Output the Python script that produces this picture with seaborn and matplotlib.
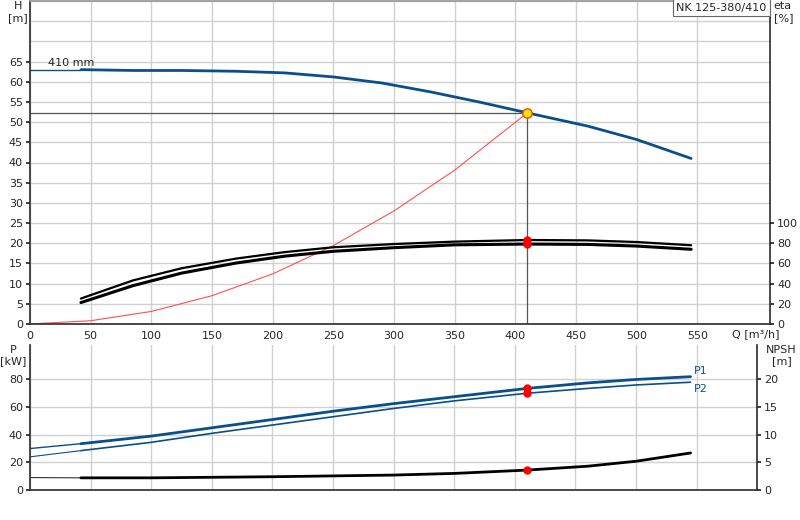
import numpy as np
import seaborn as sns
import matplotlib.pyplot as plt

sns.set_theme(style="white")
plt.rcParams["font.family"] = ["DejaVu Sans"]

# head curve, 410 mm impeller
q_head = [42, 85, 125, 170, 210, 250, 290, 330, 370, 410, 460, 500, 545]
h_head = [63.0, 62.8, 62.8, 62.6, 62.2, 61.2, 59.7, 57.5, 55.0, 52.3, 49.0, 45.7, 41.0]
q_head_ext = [0, 42]
h_head_ext = [63.0, 63.0]

# efficiency (eta, %)
q_eta = [42, 85, 125, 170, 210, 250, 300, 350, 410, 460, 500, 545]
eta_hi = [25.2, 43.2, 55.2, 64.8, 71.2, 76.0, 79.2, 81.6, 83.2, 82.8, 81.2, 78.0]
eta_lo = [21.2, 38.0, 50.4, 60.4, 67.2, 72.0, 75.6, 78.4, 79.2, 78.8, 77.2, 74.0]

# system curve
q_sys = [0, 50, 100, 150, 200, 250, 300, 350, 410]
h_sys = [0, 0.8, 3.1, 7.0, 12.4, 19.4, 28.0, 38.1, 52.3]

# duty point
q_duty = 410
h_duty = 52.3

# power
q_pow = [42, 100, 150, 200, 250, 300, 350, 410, 460, 500, 545]
p1 = [33.5, 39.0, 45.0, 51.0, 57.0, 62.5, 67.5, 73.5, 77.5, 80.0, 82.0]
p2 = [28.5, 34.5, 41.0, 47.0, 53.0, 59.0, 64.5, 70.0, 73.5, 76.0, 78.0]
q_pow_ext = [0, 42]
p1_ext = [30.0, 33.5]
p2_ext = [24.0, 28.5]
p1_duty, p2_duty = 73.5, 70.0

# NPSH
q_npsh = [42, 100, 200, 300, 350, 410, 460, 500, 545]
npsh = [2.2, 2.2, 2.4, 2.7, 3.0, 3.6, 4.3, 5.2, 6.7]
q_npsh_ext = [0, 42]
npsh_ext = [2.25, 2.2]
npsh_duty = 3.6

blue = "#0b4f8a"
grid_c = "#d0d0d0"
tick_kw = dict(labelsize=8, length=3, pad=2)

fig = plt.figure(figsize=(8, 5.2), dpi=100)

# ---- top: head + efficiency ----
ax = fig.add_axes([0.0375, 0.377, 0.925, 0.621])
ax.set_xlim(0, 610)
ax.set_ylim(0, 80)
ax.set_xticks(range(0, 600, 50))
ax.set_yticks(range(0, 70, 5))
ax.set_yticks([70, 75, 80], minor=True)
ax.grid(True, which="both", color=grid_c, lw=1)
ax.tick_params(**tick_kw)
ax.tick_params(which="minor", length=0)
for s in ax.spines.values():
    s.set_color("#333333")
ax.spines["top"].set_color("#999999")

ax.plot([0, q_duty], [h_duty, h_duty], color="#555555", lw=0.9)
ax.plot([q_duty, q_duty], [0, h_duty], color="#555555", lw=0.9)
sns.lineplot(x=q_head_ext, y=h_head_ext, ax=ax, color=blue, lw=1)
sns.lineplot(x=q_head, y=h_head, ax=ax, color=blue, lw=2)
sns.lineplot(x=q_sys, y=h_sys, ax=ax, color="#ff5050", lw=0.8)
ax.scatter([q_duty], [h_duty], s=45, color="#ffe600", edgecolor="#ff4000", zorder=6)
ax.text(15, 64, "410 mm", fontsize=8)
ax.text(-10, 80, "H\n[m]", fontsize=8, ha="center", va="top")
ax.text(618, -1.2, "Q [m³/h]", fontsize=8, ha="right", va="top")
ax.text(0.995, 0.995, "NK 125-380/410", transform=ax.transAxes, fontsize=8,
        ha="right", va="top",
        bbox=dict(boxstyle="square,pad=0.3", fc="white", ec="#666666", lw=0.8))
ax.set_xlabel("")
ax.set_ylabel("")

ax2 = ax.twinx()
ax2.set_ylim(0, 320)
ax2.set_yticks(range(0, 120, 20))
ax2.tick_params(**tick_kw)
ax2.grid(False)
for s in ax2.spines.values():
    s.set_visible(False)
sns.lineplot(x=q_eta, y=eta_hi, ax=ax2, color="black", lw=1.6)
sns.lineplot(x=q_eta, y=eta_lo, ax=ax2, color="black", lw=2.2)
ax2.scatter([q_duty, q_duty], [eta_hi[8], eta_lo[8]], s=25, color="red", zorder=6)
ax2.text(613, 320, "eta\n[%]", fontsize=8, ha="left", va="top")
ax2.set_ylabel("")

# ---- bottom: power + NPSH ----
bx = fig.add_axes([0.0375, 0.0577, 0.909, 0.279])
bx.set_xlim(0, 600)
bx.set_ylim(0, 105)
bx.set_xticks(range(0, 600, 50))
bx.set_xticklabels([])
bx.set_yticks(range(0, 100, 20))
bx.grid(True, color=grid_c, lw=1)
bx.tick_params(**tick_kw)
bx.spines["top"].set_visible(False)
for s in ["left", "right", "bottom"]:
    bx.spines[s].set_color("#333333")

sns.lineplot(x=q_pow_ext, y=p1_ext, ax=bx, color=blue, lw=1)
sns.lineplot(x=q_pow_ext, y=p2_ext, ax=bx, color=blue, lw=0.8)
sns.lineplot(x=q_pow, y=p1, ax=bx, color=blue, lw=2)
sns.lineplot(x=q_pow, y=p2, ax=bx, color=blue, lw=1.2)
bx.scatter([q_duty, q_duty], [p1_duty, p2_duty], s=25, color="red", zorder=6)
bx.text(548, 84, "P1", fontsize=8, color=blue)
bx.text(548, 71, "P2", fontsize=8, color=blue)
bx.text(-14, 105, "P\n[kW]", fontsize=8, ha="center", va="top")
bx.set_xlabel("")
bx.set_ylabel("")

bx2 = bx.twinx()
bx2.set_ylim(0, 26.25)
bx2.set_yticks(range(0, 25, 5))
bx2.tick_params(**tick_kw)
bx2.grid(False)
for s in bx2.spines.values():
    s.set_visible(False)
sns.lineplot(x=q_npsh_ext, y=npsh_ext, ax=bx2, color="#333333", lw=0.8)
sns.lineplot(x=q_npsh, y=npsh, ax=bx2, color="black", lw=2)
bx2.scatter([q_duty], [npsh_duty], s=25, color="red", zorder=6)
bx2.text(620, 26.25, "NPSH\n[m]", fontsize=8, ha="center", va="top")
bx2.set_ylabel("")

fig.savefig("out.png", dpi=100)
